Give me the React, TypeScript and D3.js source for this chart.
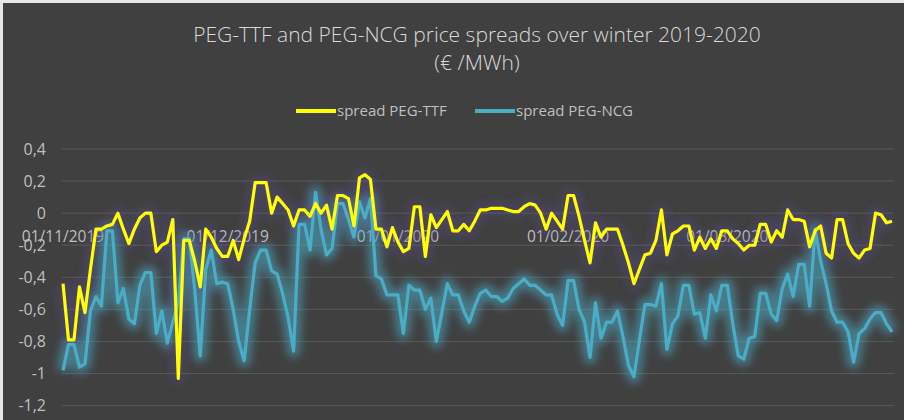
import { useEffect, useRef } from "react";
import * as d3 from "d3";

// daily values, first point on 01/11/2019
const startDate = "01/11/2019";

const spreadTTF = [
  -0.44, -0.79, -0.79, -0.46, -0.62, -0.35, -0.1, -0.1, -0.08, -0.07,
  0.0, -0.1, -0.19, -0.1, -0.03, 0.0, 0.0, -0.24, -0.2, -0.18,
  -0.04, -1.03, -0.17, -0.17, -0.3, -0.46, -0.1, -0.15, -0.22, -0.27,
  -0.27, -0.17, -0.29, -0.16, -0.05, 0.19, 0.19, 0.19, 0.0, 0.1,
  0.06, 0.02, -0.08, 0.02, 0.02, -0.02, 0.06, 0.0, 0.05, -0.1,
  0.11, 0.11, 0.09, -0.08, 0.22, 0.24, 0.21, -0.1, -0.1, -0.21,
  -0.09, -0.18, -0.24, -0.22, 0.04, 0.04, -0.27, -0.01, -0.09, -0.04,
  0.01, -0.11, -0.11, -0.07, -0.11, -0.05, 0.02, 0.02, 0.03, 0.03,
  0.03, 0.02, 0.01, 0.01, 0.04, 0.06, 0.05, 0.0, -0.1, 0.0,
  -0.05, -0.1, 0.11, 0.11, -0.02, -0.17, -0.31, -0.06, -0.15, -0.1,
  -0.1, -0.1, -0.2, -0.31, -0.44, -0.35, -0.26, -0.25, -0.17, 0.02,
  -0.26, -0.13, -0.11, -0.08, -0.08, -0.23, -0.15, -0.22, -0.16, -0.22,
  -0.11, -0.11, -0.16, -0.19, -0.23, -0.2, -0.2, -0.07, -0.07, -0.18,
  -0.11, -0.15, 0.02, -0.04, -0.04, -0.05, -0.21, -0.11, -0.08, -0.25,
  -0.28, -0.04, -0.04, -0.19, -0.25, -0.28, -0.23, -0.22, 0.0, -0.01,
  -0.06, -0.05,
];

const spreadNCG = [
  -0.98, -0.82, -0.82, -0.96, -0.94, -0.61, -0.52, -0.58, -0.11, -0.11,
  -0.56, -0.47, -0.66, -0.69, -0.45, -0.37, -0.37, -0.75, -0.61, -0.81,
  -0.68, -0.56, -0.16, -0.16, -0.48, -0.89, -0.35, -0.23, -0.44, -0.43,
  -0.44, -0.6, -0.8, -0.92, -0.6, -0.31, -0.23, -0.23, -0.36, -0.38,
  -0.5, -0.65, -0.86, -0.07, -0.07, -0.23, 0.13, -0.1, -0.26, -0.22,
  0.06, 0.06, -0.04, -0.15, 0.07, -0.03, 0.09, -0.39, -0.41, -0.51,
  -0.51, -0.51, -0.75, -0.45, -0.48, -0.48, -0.6, -0.53, -0.8, -0.62,
  -0.44, -0.51, -0.51, -0.61, -0.68, -0.58, -0.5, -0.48, -0.52, -0.52,
  -0.55, -0.53, -0.47, -0.44, -0.41, -0.45, -0.45, -0.48, -0.51, -0.51,
  -0.63, -0.7, -0.42, -0.42, -0.6, -0.68, -0.9, -0.56, -0.78, -0.68,
  -0.68, -0.61, -0.77, -0.95, -1.02, -0.79, -0.57, -0.57, -0.58, -0.44,
  -0.85, -0.69, -0.64, -0.45, -0.45, -0.63, -0.62, -0.78, -0.51, -0.61,
  -0.45, -0.45, -0.69, -0.89, -0.91, -0.78, -0.77, -0.5, -0.5, -0.63,
  -0.67, -0.47, -0.38, -0.52, -0.32, -0.32, -0.58, -0.1, -0.3, -0.44,
  -0.61, -0.68, -0.68, -0.74, -0.93, -0.75, -0.72, -0.66, -0.62, -0.62,
  -0.69, -0.74,
];

const yTicks = [0.4, 0.2, 0, -0.2, -0.4, -0.6, -0.8, -1, -1.2];
const monthLabels = ["01/11/2019", "01/12/2019", "01/01/2020", "01/02/2020", "01/03/2020"];

const seriesNames = ["spread PEG-TTF", "spread PEG-NCG"];
const seriesColors = ["#ffff00", "#4bacc6"];

export default function App() {
  const svgRef = useRef<SVGSVGElement>(null);

  useEffect(() => {
    if (!svgRef.current) return;
    const svg = d3.select(svgRef.current);
    const width = 904;
    const height = 420;
    svg.selectAll("*").remove();
    svg.attr("width", width).attr("height", height);

    const font = "'Open Sans', sans-serif";
    const parse = d3.timeParse("%d/%m/%Y");
    const t0 = parse(startDate)!;
    const dates = spreadTTF.map((_, i) => d3.timeDay.offset(t0, i));

    const x = d3
      .scaleTime()
      .domain([t0, dates[dates.length - 1]])
      .range([63, 892]);
    const y = d3.scaleLinear().domain([-1.2, 0.4]).range([405.6, 149]);
    const fmt = d3
      .formatLocale({ decimal: ",", thousands: ".", grouping: [3], currency: ["", "€"], minus: "-" })
      .format(".1~f");

    // glow filter
    const defs = svg.append("defs");
    defs
      .append("filter")
      .attr("id", "glow")
      .attr("x", "-10%")
      .attr("y", "-20%")
      .attr("width", "120%")
      .attr("height", "140%")
      .append("feGaussianBlur")
      .attr("stdDeviation", 4.5);

    // background
    svg.append("rect").attr("width", width).attr("height", height).attr("fill", "#e6e6e6");
    svg
      .append("rect")
      .attr("x", 3)
      .attr("y", 3)
      .attr("width", width - 3)
      .attr("height", height - 3)
      .attr("fill", "#404040");

    // title
    const title = svg
      .append("text")
      .attr("text-anchor", "middle")
      .attr("fill", "#d9d9d9")
      .attr("font-family", font)
      .attr("font-weight", 300)
      .attr("font-size", "21px");
    title.append("tspan").attr("x", 477).attr("y", 42).text("PEG-TTF and PEG-NCG price spreads over winter 2019-2020");
    title.append("tspan").attr("x", 477).attr("y", 70).text("(€ /MWh)");

    // legend
    const legendX = [296, 475];
    seriesNames.forEach((name, i) => {
      svg
        .append("line")
        .attr("x1", legendX[i])
        .attr("x2", legendX[i] + 40)
        .attr("y1", 111)
        .attr("y2", 111)
        .attr("stroke", seriesColors[i])
        .attr("stroke-width", 4);
      svg
        .append("text")
        .attr("x", legendX[i] + 41)
        .attr("y", 116)
        .attr("fill", "#bfbfbf")
        .attr("font-family", font)
        .attr("font-size", "15px")
        .text(name);
    });

    // gridlines + y labels
    yTicks.forEach((v) => {
      svg
        .append("line")
        .attr("x1", 62)
        .attr("x2", 894)
        .attr("y1", y(v))
        .attr("y2", y(v))
        .attr("stroke", "#595959")
        .attr("stroke-width", 1);
      svg
        .append("text")
        .attr("x", 46)
        .attr("y", y(v))
        .attr("dy", "0.35em")
        .attr("text-anchor", "end")
        .attr("fill", "#bfbfbf")
        .attr("font-family", font)
        .attr("font-size", "16px")
        .text(fmt(v));
    });

    // x labels, on the zero line
    monthLabels.forEach((m) => {
      svg
        .append("text")
        .attr("x", x(parse(m)!))
        .attr("y", y(0) + 29)
        .attr("text-anchor", "middle")
        .attr("fill", "#bfbfbf")
        .attr("font-family", font)
        .attr("font-size", "15.5px")
        .text(m);
    });

    // lines
    const line = d3
      .line<number>()
      .x((_, i) => x(dates[i]))
      .y((d) => y(d));

    const series = [spreadTTF, spreadNCG];
    const glowColors = ["#5b4a9a", "#4bacc6"];
    const glowOpacity = [0.35, 0.55];
    [1, 0].forEach((i) => {
      svg
        .append("path")
        .attr("d", line(series[i]))
        .attr("fill", "none")
        .attr("stroke", glowColors[i])
        .attr("stroke-opacity", glowOpacity[i])
        .attr("stroke-width", 13)
        .attr("stroke-linejoin", "round")
        .attr("filter", "url(#glow)");
    });
    [1, 0].forEach((i) => {
      svg
        .append("path")
        .attr("d", line(series[i]))
        .attr("fill", "none")
        .attr("stroke", seriesColors[i])
        .attr("stroke-width", 3.2)
        .attr("stroke-linejoin", "round");
    });
  }, []);

  return (
    <div style={{ position: "absolute", left: 0, top: 0 }}>
      <svg ref={svgRef} style={{ display: "block" }}></svg>
    </div>
  );
}
